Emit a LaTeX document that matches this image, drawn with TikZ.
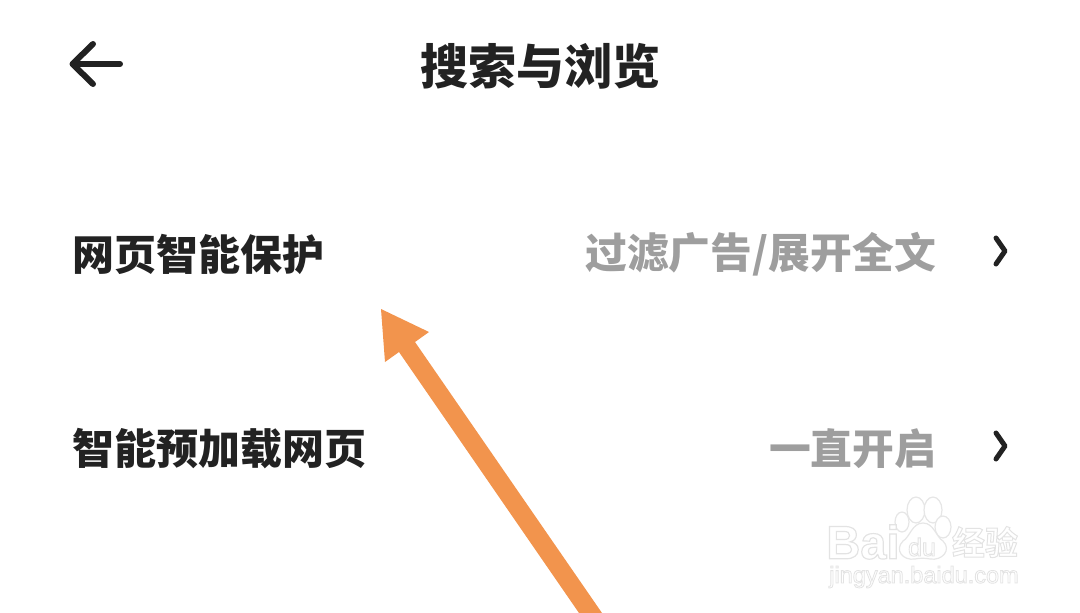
\documentclass[tikz,border=0pt]{standalone}
\usepackage{fontspec}
\newfontfamily\cjk{Noto Sans CJK SC}
\newfontfamily\markcjk[FakeBold=3]{Noto Sans CJK SC Bold}
\newfontfamily\marksans[FakeBold=3.5]{Liberation Sans}
\newfontfamily\markheavy[FakeBold=2.5]{Liberation Sans Bold}
\usetikzlibrary{calc}

\definecolor{inkdark}{HTML}{222222}
\definecolor{inkgray}{HTML}{9E9E9E}
\definecolor{pointer}{HTML}{F2944D}
\definecolor{markline}{HTML}{E6E6E6}

% Watermark text: white fill, stroke set by hand
\newcommand{\markstroke}{\special{pdf:code 0.89 G}}

\tikzset{
  rowlabel/.style={anchor=west, inner sep=0pt, text=inkdark, font=\cjk\bfseries\fontsize{42}{50}\selectfont},
  rowvalue/.style={anchor=east, inner sep=0pt, text=inkgray, font=\cjk\bfseries\fontsize{41.8}{50}\selectfont},
  iconline/.style={draw=inkdark, line cap=round, line join=round},
  pawline/.style={draw=markline, fill=white, line width=1.2pt},
  marktext/.style={inner sep=0pt, text=white}
}

\begin{document}
\begin{tikzpicture}[x=1pt, y=-1pt]

\useasboundingbox (0,0) rectangle (1080,613);

% Header
\draw[iconline, line width=6pt] (120,64) -- (73,64);
\draw[iconline, line width=6pt] (93,44) -- (72.5,64) -- (93,84);
\node[inner sep=0pt, text=inkdark, font=\cjk\bfseries\fontsize{48}{56}\selectfont] (title) at (540.5,66) {搜索与浏览};

% Rows
\node[rowlabel] (protect) at (72,254) {网页智能保护};
\node[rowvalue] (filter) at (936,254) {过滤广告/展开全文};
\draw[iconline, line width=5pt] (996,238) -- (1005,251) -- (996,264);

\node[rowlabel] (preload) at (72,449) {智能预加载网页};
\node[rowvalue] (always) at (936.5,449) {一直开启};
\draw[iconline, line width=5pt] (996,433) -- (1005,446) -- (996,459);

% Orange pointer
\fill[pointer] (381,309) -- (429,332) -- (415,342) -- (602,613) -- (579,613)
  -- (399,352) -- (385,362) -- cycle;

% Watermark paw
\draw[pawline] (902,522) ellipse[x radius=7, y radius=10];
\draw[pawline] (916,510) ellipse[x radius=9, y radius=13];
\draw[pawline] (933,510) ellipse[x radius=9, y radius=13];
\draw[pawline] (943,527) ellipse[x radius=8, y radius=11];
\draw[pawline] (923,523) .. controls (934,523) and (936,537) .. (943,541)
  .. controls (952,550) and (942,561) .. (930,559)
  .. controls (925,558) and (920,558) .. (915,559)
  .. controls (903,561) and (894,550) .. (903,541)
  .. controls (910,537) and (912,523) .. (923,523) -- cycle;

% Watermark text
\node[marktext, font=\markheavy\fontsize{47}{50}\selectfont] (bai) at (863,542) {\markstroke Bai};
\node[marktext, font=\marksans\fontsize{25}{28}\selectfont] (du) at (922,547) {\markstroke du};
\node[marktext, font=\markcjk\fontsize{33}{38}\selectfont] (jingjy) at (985,542) {\markstroke 经验};
\node[marktext, font=\marksans\fontsize{23.5}{26}\selectfont] (site) at (924,577) {\markstroke jingyan.baidu.com};

\end{tikzpicture}
\end{document}
